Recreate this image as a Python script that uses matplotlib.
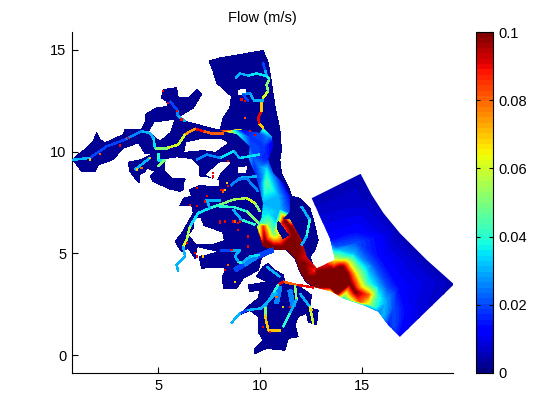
import numpy as np
import matplotlib
matplotlib.use('Agg')
import matplotlib.pyplot as plt
from matplotlib.collections import LineCollection
from matplotlib.colors import Normalize
from matplotlib.patches import Polygon
from matplotlib.cm import ScalarMappable

plt.rcParams['font.family'] = ['Liberation Sans', 'DejaVu Sans']

# outlines, in map units
land_main = [(0.81,9.60),(1.17,9.93),(1.50,10.18),(1.82,10.51),(1.99,10.92),(2.15,10.59),(2.40,10.43),(3.29,10.84),(3.38,11.08),(4.19,11.08),
    (4.36,11.41),(4.36,11.82),(4.93,12.15),(5.50,12.23),(5.42,12.48),(5.17,12.64),(5.26,13.05),(5.91,13.14),(5.99,12.64),(6.48,12.64),
    (6.89,13.05),(7.13,12.81),(6.73,12.15),(6.32,11.90),(6.07,11.74),(6.32,11.49),(7.54,11.17),(8.03,11.05),(8.19,11.65),(8.52,12.15),
    (8.60,12.72),(7.87,13.38),(7.70,13.95),(7.51,14.45),(8.03,14.61),(9.01,14.77),(10.15,14.97),(10.40,14.36),(10.56,13.38),(10.73,12.23),
    (10.97,11.08),(11.05,10.09),(10.97,9.60),(11.05,8.94),(11.38,8.29),(11.54,7.80),(11.95,7.71),(12.44,7.22),(12.61,6.65),(12.85,5.66),
    (12.69,5.17),(12.44,4.84),(12.69,4.18),(12.60,3.36),(12.25,3.61),(11.95,4.10),(11.71,4.76),(11.30,5.17),(10.56,5.17),
    (10.07,4.76),(9.91,4.18),(9.17,3.77),(8.85,3.29),(8.20,3.29),(8.16,3.86),(8.36,4.27),(7.87,4.32),(7.13,4.27),(7.02,4.85),
    (7.46,4.93),(8.00,5.09),(7.22,5.26),(6.92,5.34),(6.81,4.76),(6.48,5.26),(6.15,5.09),(5.83,5.59),(6.15,5.96),(6.40,6.41),
    (6.73,6.98),(6.64,7.39),(6.07,7.34),(6.27,7.72),(6.64,7.80),(6.53,8.13),(7.05,8.33),(8.03,8.26),(8.03,8.62),(7.46,8.76),
    (6.48,8.87),(6.23,8.46),(6.23,8.13),(6.07,8.05),(5.58,8.16),(5.09,8.38),(4.76,8.54),(4.63,8.79),(4.85,9.03),(4.44,9.20),(4.36,9.03),
    (4.11,8.87),(4.11,8.46),(3.87,8.70),(3.62,9.03),(3.54,9.48),(4.19,9.61),(4.68,9.86),(4.76,9.93),(4.36,9.93),(4.03,10.43),(3.29,10.18),
    (2.80,9.61),(2.07,9.36),(1.91,9.00),(1.25,9.03),(1.01,9.36)]
land_south = [(9.83,3.86),(10.15,4.35),(10.40,4.51),(10.73,4.18),(11.13,3.94),(11.22,3.61),(11.95,3.36),(12.52,2.95),(12.44,2.30),(12.85,2.21),
    (12.77,1.48),(12.36,1.64),(12.28,2.05),(11.87,1.89),(11.71,1.48),(11.87,0.90),(11.38,0.82),(11.22,0.24),(10.32,0.33),(9.75,0.08),(9.75,0.33),
    (10.15,0.74),(9.91,1.15),(9.91,1.89),(9.50,2.21),(9.01,1.97),(9.50,2.46),(9.91,2.79),(9.99,3.20),(9.50,3.12),(9.42,3.45),(9.99,3.53),(10.32,3.61)]
holes = [
    [(4.60,11.00),(4.85,11.41),(5.75,11.53),(5.58,11.00),(5.09,10.59)],
    [(6.32,10.02),(6.40,10.43),(7.13,10.59),(8.03,10.62),(8.36,10.43),(7.79,10.02),(7.22,10.10)],
    [(5.34,9.61),(5.91,9.69),(6.64,9.61),(6.97,9.28),(6.97,8.85),(6.40,8.70),(5.70,8.75),(5.35,9.10)],
    [(7.38,8.87),(8.03,9.44),(8.52,9.48),(8.03,8.95),(7.87,8.62)],
    [(8.93,9.20),(9.34,9.25),(9.26,8.95),(8.93,8.95)],
    [(6.81,6.73),(7.05,6.73),(7.21,6.32),(8.12,6.00),(8.19,5.66),(7.70,5.50),(6.89,5.50),(6.56,5.90),(6.81,6.25)],
    [(8.93,13.02),(9.26,13.05),(9.34,12.80),(8.93,12.80)],
]
water = [(8.03,11.03),(8.85,10.88),(9.50,10.26),(9.47,9.60),(9.75,8.94),(9.99,8.12),(10.15,7.47),(10.07,6.73),(9.86,6.32),(10.15,5.33),
    (10.56,5.17),(11.30,5.17),(11.71,4.76),(11.95,4.10),(12.25,3.61),(12.61,3.36),(13.51,3.12),(14.08,2.79),(15.06,2.46),(15.80,2.13),
    (16.29,1.47),(16.86,0.90),(19.51,3.48),(18.17,4.68),(16.86,5.99),(16.05,6.98),(15.47,7.88),(14.93,8.91),(12.53,7.71),(12.94,6.81),
    (13.43,5.74),(13.68,4.68),(12.78,4.27),(12.28,4.84),(12.03,5.66),(11.46,6.65),(11.05,6.65),(11.46,7.06),(11.46,7.79),(11.13,8.45),
    (10.64,8.94),(10.40,9.60),(10.64,10.26),(10.56,10.75),(10.15,11.16),(9.99,10.91),(9.01,11.08)]
islet = [(10.89,6.57),(11.38,5.90),(11.13,5.74),(10.84,6.23)]

# flow read at points of the estuary and the sea
field_x = [14.00,14.25,14.41,14.66,13.76, 14.25,14.57,14.82,15.31,14.90, 14.41,14.74,15.06,15.52,15.31,
    14.33,14.98,15.31,15.75,15.64, 13.92,14.57,15.31,15.80,16.13,16.05, 13.68,14.74,15.64,16.21,16.54,16.54,
    13.43,14.74,16.05,16.86,17.19,16.86, 12.94,14.41,16.37,17.35,18.50,18.00, 12.53,14.93,15.47,16.86,18.17,19.51,
    13.68,13.27,12.78,13.51,14.08,15.06,15.80,16.29,12.78,11.96,13.43,13.59,
    12.77,12.61,12.28,12.12,11.87,11.62,11.46,11.22,12.03,12.28,12.69,11.62,11.13,10.64,10.24,10.15,10.40,9.99,10.64,
    10.81,11.46,10.97,10.40,10.15,10.89,11.38,11.13,10.32,9.99,10.56,9.75,9.99,10.40,9.66,9.50,10.15,10.64,10.15,10.40,
    8.85,8.03,9.01,9.50,10.32,9.99,9.86,10.15,10.56,11.30,11.71,11.95,12.25]
field_y = [4.35,4.02,3.53,3.12,3.03, 4.43,3.86,3.28,2.95,2.62, 4.51,4.02,3.36,3.00,2.54,
    4.84,4.27,3.53,2.87,2.38, 5.17,5.00,4.18,3.36,2.62,1.88, 5.33,5.50,4.35,3.36,2.38,1.39,
    5.74,6.15,4.68,3.36,2.21,0.90, 6.81,7.14,5.99,4.68,3.53,2.21, 7.71,8.91,7.88,5.99,4.68,3.48,
    4.68,4.43,4.27,3.12,2.79,2.46,2.13,1.47,3.85,4.51,3.36,4.18,
    4.10,3.36,3.85,4.51,5.33,4.84,6.32,6.61,5.66,4.84,4.15,5.82,5.33,5.33,5.58,6.32,6.40,6.48,5.99,
    6.65,6.97,7.14,6.97,7.47,7.79,7.79,8.45,8.45,8.45,8.78,8.94,9.27,9.60,9.77,10.26,10.26,10.42,11.16,10.75,
    10.88,11.03,11.08,10.67,9.11,10.91,6.32,5.33,5.17,5.17,4.76,4.10,3.61]
field_v = [.100,.100,.100,.100,.100, .080,.080,.080,.080,.080, .060,.060,.060,.060,.060,
    .040,.040,.040,.040,.040, .030,.030,.030,.030,.030,.030, .020,.020,.020,.020,.020,.020,
    .012,.012,.012,.012,.012,.012, .008,.008,.008,.008,.008,.008, .005,.005,.005,.005,.005,.005,
    .060,.090,.090,.060,.035,.030,.025,.015,.100,.100,.100,.100,
    .100,.100,.100,.100,.100,.100,.100,.100,.095,.090,.085,.100,.100,.100,.100,.085,.050,.040,.045,
    .030,.020,.030,.035,.030,.030,.015,.012,.045,.020,.030,.015,.025,.015,.020,.020,.018,.010,.045,.025,
    .040,.090,.012,.018,.035,.020,.040,.100,.100,.100,.100,.100,.100]

# wider side arms, flow at each point
wide_channels = [
    ([(10.64,5.17),(9.83,4.84),(9.17,4.43),(8.77,4.18)], [.02,.025,.02,.015]),
    ([(10.97,3.36),(10.81,2.54)], [.025,.02]),
    ([(11.46,3.20),(11.62,2.38)], [.025,.02]),
]

# channels: points and flow at each point
channels = [
    ([(10.15,11.16),(9.96,11.37),(9.91,11.65),(10.07,11.98),(10.07,12.39),(10.15,12.64),(10.40,12.97),(10.32,13.30),(10.45,13.54),(10.32,13.74),(10.24,14.03),(10.15,14.36)],
     [.07,.09,.09,.07,.07,.06,.05,.05,.04,.03,.02,.015]),
    ([(10.32,13.71),(9.83,13.84),(9.42,13.74),(9.01,13.84),(8.81,13.62)], [.035,.035,.03,.03,.02]),
    ([(10.15,12.56),(9.66,12.56),(9.50,12.89),(9.17,12.80),(9.42,12.47)], [.03,.03,.025,.02,.02]),
    ([(8.20,10.92),(7.54,10.92),(7.22,11.00),(6.81,11.13),(6.32,10.84),(5.99,10.34),(5.42,10.18),(4.85,10.18),(4.77,10.67),(4.60,10.92),
      (4.19,11.00),(3.38,10.59),(2.48,10.26),(1.66,9.69),(0.81,9.60)],
     [.08,.08,.09,.075,.06,.06,.05,.035,.03,.03,.025,.02,.02,.03,.03]),
    ([(5.01,9.93),(5.01,9.61),(5.34,9.61),(5.01,9.28)], [.04,.035,.05,.03]),
    ([(4.60,9.69),(3.87,9.12)], [.03,.02]),
    ([(6.32,11.49),(5.91,11.82),(5.91,12.07),(5.58,12.48)], [.03,.025,.02,.015]),
    ([(9.99,9.86),(9.01,9.69),(8.69,10.02),(8.03,9.69),(7.38,9.86),(6.89,9.61)], [.035,.03,.035,.025,.025,.02]),
    ([(9.83,8.79),(9.01,8.71),(8.56,8.33)], [.03,.025,.02]),
    ([(9.99,7.06),(9.75,7.47),(9.34,7.72),(8.68,7.64),(8.03,7.39),(7.54,7.23),(6.97,6.98),(6.56,6.32),(6.40,5.67),(6.23,5.34),(6.32,4.85),(5.91,4.44),(5.99,4.11)],
     [.05,.06,.055,.05,.04,.035,.035,.055,.06,.03,.03,.03,.03]),
    ([(9.91,6.49),(9.34,7.06),(8.68,7.28),(8.03,7.31)], [.05,.04,.04,.04]),
    ([(9.75,6.41),(9.09,6.65),(8.68,7.14)], [.04,.03,.03]),
    ([(7.54,7.23),(7.38,7.64),(8.03,7.64)], [.03,.03,.03]),
    ([(8.93,8.62),(9.34,8.70),(9.67,8.31),(9.91,8.05)], [.025,.025,.025,.025]),
    ([(9.99,4.93),(9.50,4.84),(9.09,4.52),(8.93,4.60),(8.77,4.85),(9.01,5.17),(8.52,5.17),(8.03,5.17)], [.035,.03,.04,.03,.03,.03,.02,.02]),
    ([(12.03,7.30),(12.44,6.65),(12.28,5.82),(12.03,5.41)], [.03,.04,.03,.05]),
    ([(12.61,3.33),(11.79,3.45),(11.13,3.61),(10.89,3.45),(10.64,3.04),(10.24,2.38),(10.24,1.97),(10.40,1.23),(10.97,1.23)],
     [.09,.08,.09,.04,.03,.05,.07,.07,.05]),
    ([(10.81,3.04),(10.07,2.30),(9.34,2.21),(9.01,2.05),(8.60,1.59)], [.03,.03,.02,.03,.06]),
    ([(11.71,3.44),(11.79,2.70),(11.46,2.05),(11.13,1.39)], [.05,.03,.04,.03]),
    ([(11.95,3.03),(12.44,2.38),(12.61,1.55)], [.03,.06,.06]),
    ([(10.97,3.85),(10.32,4.35)], [.03,.025]),
]

# isolated fast cells
speck_x = [3.54,4.60,5.26,5.50,6.15,6.89,8.20,8.44,6.89,7.38,8.69,8.03,9.01,9.42,6.40,6.89,4.19,3.95,3.13,2.15,1.66,5.91,
    9.09,9.26,9.50,9.75,9.26,8.44,7.70,8.19,8.36,8.93,8.03,8.60,8.77,10.48,10.15,11.46,12.52,10.81,11.13,
    7.71,8.28,8.11,7.30,8.28,8.77,8.03,8.93,9.42,6.81,7.22,8.28,8.44,6.56]
speck_y = [10.68,9.69,12.98,12.40,11.58,8.21,8.13,8.30,7.31,7.80,6.57,6.49,6.57,5.83,5.50,4.85,9.20,9.12,10.30,9.90,9.61,11.99,
    12.56,12.47,11.00,10.83,11.65,9.52,8.78,8.04,8.45,6.48,6.48,5.17,3.61,1.14,1.39,2.38,2.21,2.87,2.38,
    8.95,8.13,8.13,7.55,6.57,6.57,6.57,6.16,5.34,5.01,4.85,4.19,4.44,7.39]
speck_v = [.09,.07,.09,.09,.09,.09,.09,.09,.09,.09,.09,.08,.09,.09,.09,.09,.08,.07,.09,.08,.07,.09,
    .09,.09,.09,.09,.08,.09,.09,.08,.07,.09,.09,.09,.07,.09,.09,.09,.07,.08,.07,
    .09,.07,.09,.09,.09,.08,.09,.09,.09,.09,.07,.09,.08,.09]

land_v = 0.002
x_ticks = [5, 10, 15]
y_ticks = [0, 5, 10, 15]
cbar_ticks = [0, 0.02, 0.04, 0.06, 0.08, 0.1]
cbar_labels = ['0', '0.02', '0.04', '0.06', '0.08', '0.1']

cmap = plt.get_cmap('jet', 64)
norm = Normalize(0, 0.1)
land_color = cmap(norm(land_v))

fig = plt.figure(figsize=(5.54, 4.2), dpi=100)
ax = fig.add_axes([72/554, 47/420, 381/554, 341/420])

# land, then the gaps in it
for outline in [land_main, land_south]:
    ax.add_patch(Polygon(outline, facecolor=land_color, edgecolor='none', antialiased=False, zorder=1))
for outline in holes:
    ax.add_patch(Polygon(outline, facecolor='white', edgecolor='none', antialiased=False, zorder=2))

# estuary and sea
levels = np.linspace(0, 0.1, 65)
field = ax.tricontourf(field_x, field_y, field_v, levels=levels, cmap=cmap, norm=norm, extend='both',
                       antialiased=False, zorder=3)
clip = Polygon(water, transform=ax.transData)
field.set_clip_path(clip)
ax.add_patch(Polygon(islet, facecolor=land_color, edgecolor='none', antialiased=False, zorder=4))

# channels
def draw_channels(lines, width):
    for points, flow in lines:
        points = np.array(points)
        segs = np.stack([points[:-1], points[1:]], axis=1)
        lc = LineCollection(segs, cmap=cmap, norm=norm, linewidths=width, antialiased=False, zorder=5)
        lc.set_array(np.array(flow[:-1]))
        ax.add_collection(lc)

draw_channels(wide_channels, 3.0)
draw_channels(channels, 1.0)

ax.scatter(speck_x, speck_y, c=speck_v, cmap=cmap, norm=norm, s=2.5, marker='s', linewidths=0, zorder=6)

ax.set_xlim(0.78, 19.46)
ax.set_ylim(-0.88, 15.88)
ax.set_xticks(x_ticks)
ax.set_yticks(y_ticks)
ax.tick_params(direction='in', length=4, width=0.8, labelsize=10.5, pad=4)
ax.spines['top'].set_visible(False)
ax.spines['right'].set_visible(False)
ax.set_title('Flow (m/s)', fontsize=10.5, pad=7)

# colorbar
cax = fig.add_axes([476/554, 47/420, 16.5/554, 341/420])
cbar = fig.colorbar(ScalarMappable(norm=norm, cmap=cmap), cax=cax)
cbar.set_ticks(cbar_ticks)
cbar.set_ticklabels(cbar_labels)
cax.tick_params(direction='in', left=True, right=True, length=3, width=0.8, labelsize=10.5, pad=4)
cbar.outline.set_linewidth(0.8)

fig.savefig('out.png', dpi=100)
